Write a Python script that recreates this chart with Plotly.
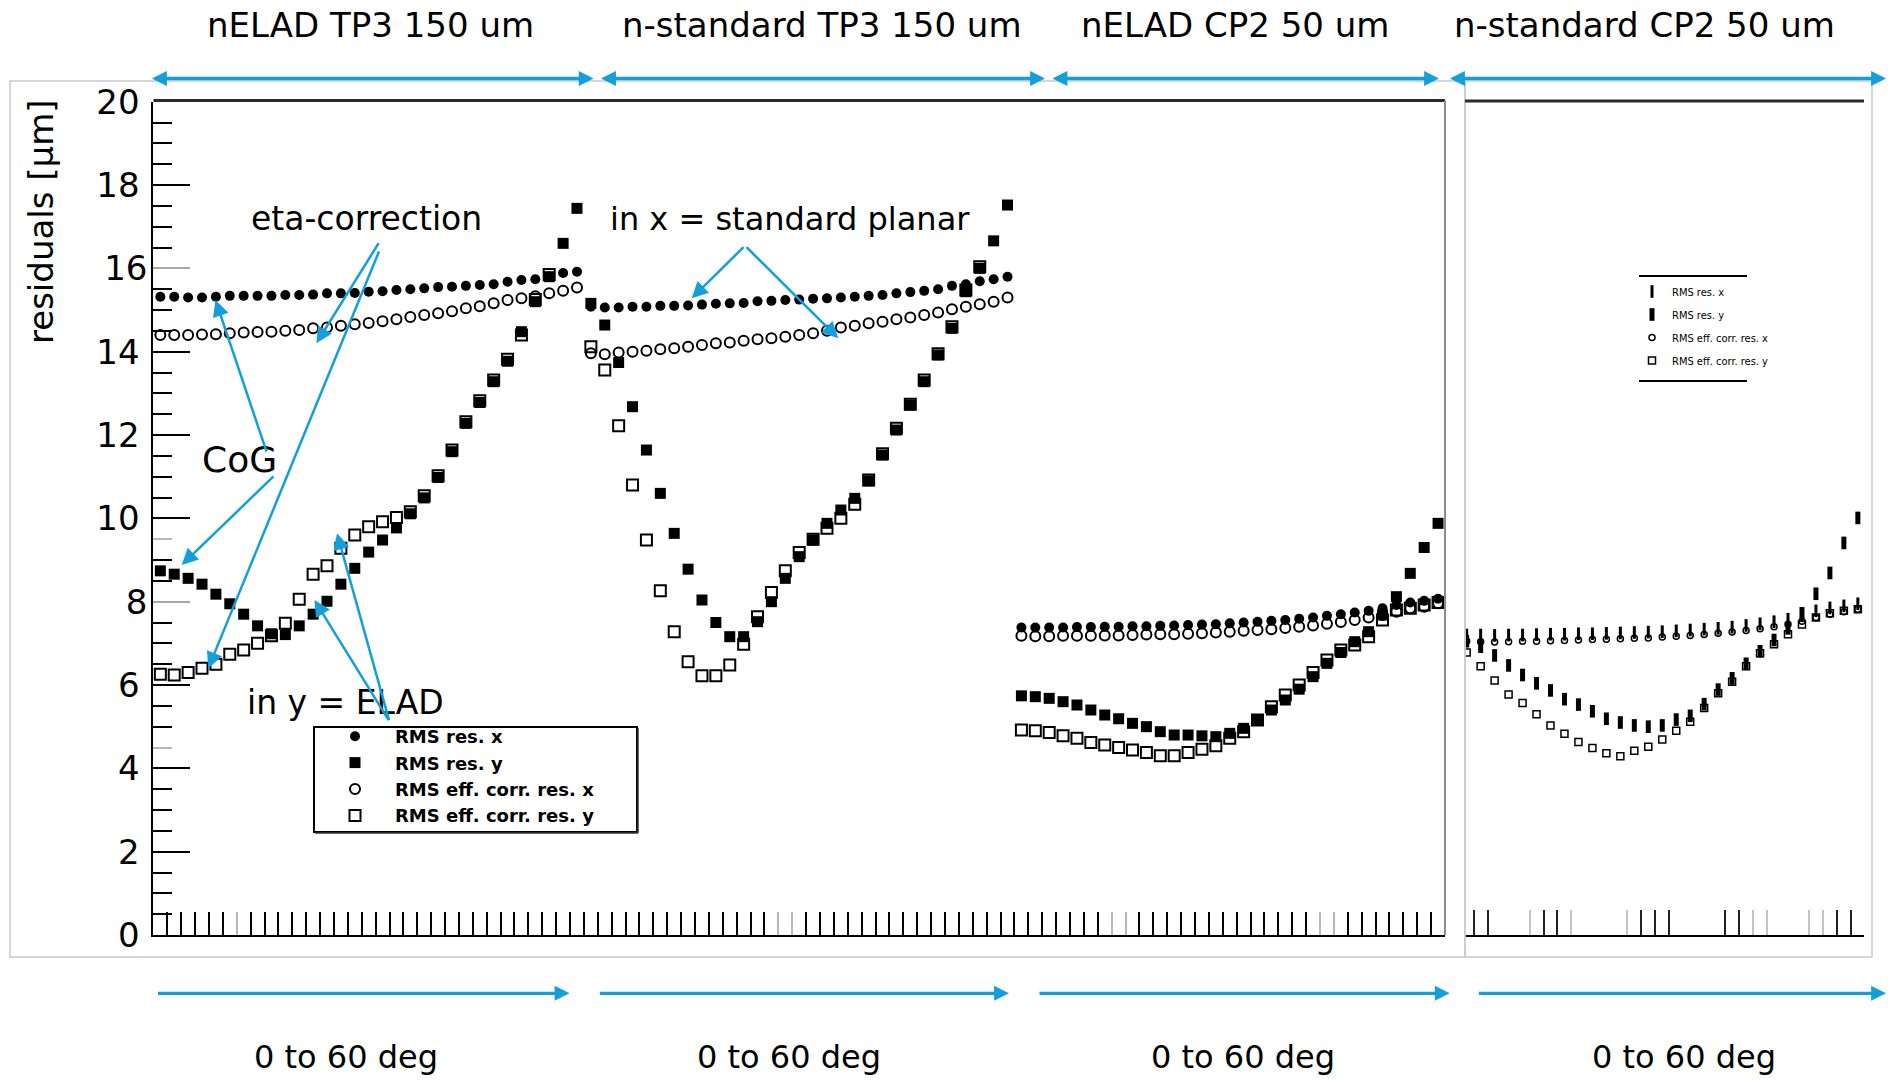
import numpy as np
import plotly.graph_objects as go

# ---------------------------------------------------------------------------
# Data: RMS residuals [um] vs. incidence angle (31 angles from 0 to 60 deg)
# ---------------------------------------------------------------------------
section_titles = ["nELAD TP3 150 um", "n-standard TP3 150 um",
                  "nELAD CP2 50 um", "n-standard CP2 50 um"]
angle_label = "0 to 60 deg"
y_tick_values = [0, 2, 4, 6, 8, 10, 12, 14, 16, 18, 20]
series_names = ["RMS res. x", "RMS res. y",
                "RMS eff. corr. res. x", "RMS eff. corr. res. y"]

# nELAD TP3 150 um
res_x_elad_tp3 = [15.32, 15.32, 15.30, 15.30, 15.32, 15.34, 15.34, 15.34, 15.34, 15.36, 15.36,
                  15.37, 15.40, 15.40, 15.41, 15.44, 15.45, 15.48, 15.50, 15.52, 15.55, 15.56,
                  15.58, 15.60, 15.62, 15.68, 15.72, 15.74, 15.80, 15.89, 15.92]
res_y_elad_tp3 = [8.74, 8.66, 8.56, 8.42, 8.18, 7.95, 7.70, 7.42, 7.23, 7.21, 7.42, 7.70,
                  8.01, 8.42, 8.80, 9.19, 9.48, 9.77, 10.11, 10.49, 10.98, 11.60, 12.28,
                  12.78, 13.28, 13.77, 14.48, 15.20, 15.80, 16.60, 17.44]
eff_x_elad_tp3 = [14.40, 14.40, 14.40, 14.41, 14.42, 14.44, 14.46, 14.47, 14.48, 14.50, 14.52,
                  14.56, 14.58, 14.62, 14.66, 14.69, 14.73, 14.78, 14.83, 14.88, 14.92, 14.97,
                  15.04, 15.09, 15.16, 15.24, 15.28, 15.33, 15.40, 15.46, 15.54]
eff_y_elad_tp3 = [6.26, 6.24, 6.30, 6.40, 6.50, 6.74, 6.84, 7.00, 7.18, 7.48, 8.06, 8.66,
                  8.86, 9.28, 9.60, 9.80, 9.92, 10.02, 10.16, 10.54, 11.02, 11.64, 12.32,
                  12.82, 13.32, 13.82, 14.40, 15.25, 15.85, None, None]

# n-standard TP3 150 um
res_x_std_tp3 = [15.08, 15.06, 15.06, 15.08, 15.08, 15.10, 15.10, 15.11, 15.13, 15.15, 15.16,
                 15.17, 15.21, 15.22, 15.24, 15.25, 15.27, 15.28, 15.30, 15.32, 15.34, 15.36,
                 15.40, 15.43, 15.46, 15.50, 15.58, 15.62, 15.69, 15.74, 15.80]
res_y_std_tp3 = [15.16, 14.64, 13.74, 12.68, 11.64, 10.60, 9.64, 8.78, 8.04, 7.50, 7.16,
                 7.16, 7.52, 8.00, 8.56, 9.08, 9.48, 9.88, 10.20, 10.48, 10.90, 11.52,
                 12.12, 12.72, 13.28, 13.92, 14.56, 15.44, 16.00, 16.66, 17.52]
eff_x_std_tp3 = [13.96, 13.94, 13.98, 14.00, 14.02, 14.06, 14.08, 14.12, 14.16, 14.20, 14.22,
                 14.26, 14.30, 14.32, 14.36, 14.40, 14.44, 14.50, 14.58, 14.62, 14.68, 14.72,
                 14.78, 14.82, 14.88, 14.94, 15.02, 15.08, 15.14, 15.20, 15.30]
eff_y_std_tp3 = [14.12, 13.56, 12.22, 10.80, 9.48, 8.26, 7.28, 6.56, 6.22, 6.22, 6.48,
                 6.98, 7.64, 8.22, 8.74, 9.18, 9.50, 9.76, 10.00, 10.34, 10.92, 11.55,
                 12.16, 12.74, 13.32, 13.95, 14.60, 15.48, 16.04, None, None]

# nELAD CP2 50 um
res_x_elad_cp2 = [7.38, 7.38, 7.38, 7.38, 7.39, 7.39, 7.40, 7.40, 7.41, 7.41, 7.42, 7.43,
                  7.44, 7.45, 7.46, 7.48, 7.50, 7.52, 7.54, 7.56, 7.59, 7.62, 7.66, 7.70,
                  7.74, 7.78, 7.84, 7.92, 7.98, 8.02, 8.07]
res_y_elad_cp2 = [5.74, 5.72, 5.68, 5.60, 5.52, 5.40, 5.28, 5.19, 5.08, 5.00, 4.88, 4.80,
                  4.80, 4.78, 4.76, 4.84, 4.96, 5.16, 5.40, 5.64, 5.90, 6.20, 6.52, 6.78,
                  7.04, 7.28, 7.68, 8.12, 8.68, 9.30, 9.88]
eff_x_elad_cp2 = [7.18, 7.17, 7.17, 7.18, 7.18, 7.18, 7.19, 7.19, 7.20, 7.21, 7.22, 7.22,
                  7.23, 7.24, 7.26, 7.28, 7.30, 7.32, 7.34, 7.37, 7.40, 7.43, 7.47, 7.51,
                  7.56, 7.62, 7.68, 7.76, 7.84, 7.88, 7.96]
eff_y_elad_cp2 = [4.92, 4.90, 4.86, 4.78, 4.72, 4.62, 4.56, 4.50, 4.44, 4.38, 4.30, 4.30,
                  4.38, 4.46, 4.54, 4.72, 4.88, 5.16, 5.48, 5.76, 6.00, 6.30, 6.60, 6.84,
                  6.96, 7.16, 7.56, 7.80, 7.84, 7.92, 7.98]

# n-standard CP2 50 um (separate canvas, only 29 angles visible)
res_x_std_cp2 = [7.20, 7.20, 7.19, 7.20, 7.20, 7.21, 7.22, 7.22, 7.23, 7.23, 7.24, 7.25,
                 7.26, 7.27, 7.28, 7.30, 7.32, 7.34, 7.36, 7.39, 7.43, 7.47, 7.52, 7.58,
                 7.66, 7.78, 7.85, 7.90, 7.95]
res_y_std_cp2 = [7.05, 6.92, 6.71, 6.47, 6.24, 6.04, 5.87, 5.66, 5.53, 5.37, 5.19, 5.10,
                 5.03, 5.00, 5.03, 5.17, 5.26, 5.54, 5.89, 6.16, 6.51, 6.81, 7.08, 7.36,
                 7.72, 8.19, 8.69, 9.41, 10.01]
eff_x_std_cp2 = [7.05, 7.04, 7.03, 7.04, 7.05, 7.05, 7.06, 7.07, 7.08, 7.09, 7.10, 7.11,
                 7.12, 7.13, 7.15, 7.17, 7.19, 7.21, 7.24, 7.27, 7.31, 7.35, 7.40, 7.46,
                 7.53, 7.62, 7.70, 7.76, 7.82]
eff_y_std_cp2 = [6.78, 6.45, 6.11, 5.77, 5.57, 5.30, 5.03, 4.83, 4.63, 4.49, 4.36, 4.29,
                 4.42, 4.52, 4.69, 4.90, 5.12, 5.45, 5.80, 6.08, 6.45, 6.76, 6.98, 7.22,
                 7.45, 7.62, 7.72, 7.78, 7.82]

# ---------------------------------------------------------------------------
# Geometry helpers (canvas is 1888 x 1080 px, margins are zero)
# ---------------------------------------------------------------------------
W, H = 1888, 1080
BLUE = "#139fdb"
FONT = "DejaVu Sans"


def fx(px):
    return px / W


def fy(py):
    return 1 - py / H


X_LEFT, X_RIGHT = 153.4, 1445.0          # main frame
Y_TOP, Y_BOTTOM = 101.7, 935.0
R_LEFT, R_RIGHT = 1465.0, 1864.0         # second canvas frame
N_BINS = 93                               # 3 x 31 angle bins on the main canvas
R_RANGE = [-0.12, 28.44]

# bin centres of the three sections on the main canvas
main_sections = [
    (res_x_elad_tp3, res_y_elad_tp3, eff_x_elad_tp3, eff_y_elad_tp3),
    (res_x_std_tp3, res_y_std_tp3, eff_x_std_tp3, eff_y_std_tp3),
    (res_x_elad_cp2, res_y_elad_cp2, eff_x_elad_cp2, eff_y_elad_cp2),
]
bin_x = np.concatenate([np.arange(len(s[0])) + 31 * k + 0.5 for k, s in enumerate(main_sections)])
main_series = [sum((list(s[j]) for s in main_sections), []) for j in range(4)]

right_series = [res_x_std_cp2, res_y_std_cp2, eff_x_std_cp2, eff_y_std_cp2]
right_x = np.arange(len(res_x_std_cp2))

fig = go.Figure()

# --- main canvas: open markers first, filled markers drawn on top ---------
main_styles = {
    0: dict(symbol="circle", size=10, color="black"),
    1: dict(symbol="square", size=11, color="black"),
    2: dict(symbol="circle-open", size=10, color="black", line=dict(width=2)),
    3: dict(symbol="square-open", size=11, color="black", line=dict(width=2)),
}
for j in (2, 3, 0, 1):
    fig.add_trace(go.Scatter(
        x=bin_x, y=main_series[j], mode="markers", name=series_names[j],
        marker=main_styles[j], legend="legend", legendrank=j + 1,
        xaxis="x", yaxis="y", cliponaxis=False, hoverinfo="skip"))

# --- second canvas (squeezed markers) ---------------------------------------
right_styles = {
    0: dict(symbol="line-ns", size=9, color="black", line=dict(width=3, color="black")),
    1: dict(symbol="line-ns", size=9, color="black", line=dict(width=5, color="black")),
    2: dict(symbol="circle-open", size=6, color="black", line=dict(width=1.5)),
    3: dict(symbol="square-open", size=7, color="black", line=dict(width=1.5)),
}
for j in range(4):
    fig.add_trace(go.Scatter(
        x=right_x, y=right_series[j], mode="markers", name=series_names[j],
        marker=right_styles[j], legend="legend2", legendgroup="g%d" % j,
        xaxis="x2", yaxis="y2", cliponaxis=True, hoverinfo="skip"))

# empty traces that host the lighter tick overlays
fig.add_trace(go.Scatter(x=[], y=[], xaxis="x3", yaxis="y3", showlegend=False))
fig.add_trace(go.Scatter(x=[], y=[], xaxis="x4", yaxis="y2", showlegend=False))

# --- axes ---------------------------------------------------------------------
gray_bins = [6, 45, 46, 69, 70, 84, 85]
black_bins = [b for b in range(1, N_BINS) if b not in gray_bins]
gray_y_major = [8, 16]
gray_y_minor = [4.5, 9.5]
black_y_major = [v for v in y_tick_values if v not in gray_y_major]
black_y_minor = [v / 2 for v in range(1, 40) if v % 4 != 0 and v / 2 not in gray_y_minor]

r_black = [0.5, 1.5, 5.5, 6.5, 12.5, 13.5, 14.5, 18.5, 19.5, 26.5, 27.5]
r_gray = [4.5, 7.5, 11.5, 20.5, 21.5, 24.5, 25.5]

y_domain = [fy(Y_BOTTOM), fy(Y_TOP)]
tickfont = dict(family=FONT, size=34, color="black")

fig.update_layout(
    xaxis=dict(domain=[fx(X_LEFT), fx(X_RIGHT)], range=[0, N_BINS], anchor="y",
               tickmode="array", tickvals=black_bins, ticks="inside", ticklen=23,
               tickwidth=2, tickcolor="black", showticklabels=False,
               showline=True, linecolor="black", linewidth=2,
               showgrid=False, zeroline=False, fixedrange=True),
    yaxis=dict(domain=y_domain, range=[0, 20], anchor="x",
               tickmode="array", tickvals=black_y_major,
               ticktext=[str(v) for v in black_y_major],
               ticks="inside", ticklen=37, tickwidth=2, tickcolor="black",
               minor=dict(tickmode="array", tickvals=black_y_minor, ticks="inside",
                          ticklen=19, tickwidth=2, tickcolor="black"),
               tickfont=tickfont, ticklabelstandoff=5,
               showline=True, linecolor="black", linewidth=2,
               showgrid=False, zeroline=False, fixedrange=True),
    xaxis3=dict(overlaying="x", range=[0, N_BINS], anchor="y3",
                tickmode="array", tickvals=gray_bins, ticks="inside", ticklen=23,
                tickwidth=2, tickcolor="#b8b8b8", showticklabels=False,
                showline=False, showgrid=False, zeroline=False, fixedrange=True),
    yaxis3=dict(overlaying="y", range=[0, 20], anchor="x3", side="left",
                tickmode="array", tickvals=gray_y_major,
                ticktext=[str(v) for v in gray_y_major],
                ticks="inside", ticklen=37, tickwidth=2, tickcolor="#a8a8a8",
                minor=dict(tickmode="array", tickvals=gray_y_minor, ticks="inside",
                           ticklen=19, tickwidth=2, tickcolor="#b8b8b8"),
                tickfont=tickfont, ticklabelstandoff=5,
                showline=False, showgrid=False, zeroline=False, fixedrange=True),
    xaxis2=dict(domain=[fx(R_LEFT), fx(R_RIGHT)], range=R_RANGE, anchor="y2",
                tickmode="array", tickvals=r_black, ticks="inside", ticklen=25,
                tickwidth=2, tickcolor="#222", showticklabels=False,
                showline=True, linecolor="black", linewidth=2,
                showgrid=False, zeroline=False, fixedrange=True),
    xaxis4=dict(overlaying="x2", range=R_RANGE, anchor="y2",
                tickmode="array", tickvals=r_gray, ticks="inside", ticklen=25,
                tickwidth=2, tickcolor="#c4c4c4", showticklabels=False,
                showline=False, showgrid=False, zeroline=False, fixedrange=True),
    yaxis2=dict(domain=y_domain, range=[0, 20], anchor="x2", visible=False,
                fixedrange=True),
)

# --- legends ------------------------------------------------------------------
fig.update_layout(
    legend=dict(x=fx(315), y=fy(718), xanchor="left", yanchor="top",
                bgcolor="rgba(0,0,0,0)", borderwidth=0, itemwidth=70,
                font=dict(family=FONT, size=18, color="black", weight="bold"),
                itemclick=False, itemdoubleclick=False),
    legend2=dict(x=fx(1632), y=fy(277), xanchor="left", yanchor="top",
                 bgcolor="rgba(0,0,0,0)", borderwidth=0, itemwidth=30,
                 traceorder="grouped", tracegroupgap=4,
                 font=dict(family="DejaVu Sans Condensed, " + FONT, size=11, color="black"),
                 itemclick=False, itemdoubleclick=False),
)

# --- frames and legend boxes ----------------------------------------------------
shapes = []


def line(x0, y0, x1, y1, color, width):
    shapes.append(dict(type="line", xref="paper", yref="paper",
                       x0=fx(x0), y0=fy(y0), x1=fx(x1), y1=fy(y1),
                       line=dict(color=color, width=width), layer="above"))


def rect(x0, y0, x1, y1, color, width):
    shapes.append(dict(type="rect", xref="paper", yref="paper",
                       x0=fx(x0), y0=fy(y0), x1=fx(x1), y1=fy(y1),
                       line=dict(color=color, width=width),
                       fillcolor="rgba(0,0,0,0)", layer="above"))


rect(10, 81, R_LEFT, 957, "#cacaca", 1.5)          # outer frame, main canvas
rect(R_LEFT, 81, 1872, 957, "#cacaca", 1.5)        # outer frame, second canvas
line(X_LEFT, 100.5, X_RIGHT, 100.5, "#2b2b2b", 3)  # top edge of main frame
line(X_RIGHT, 100.5, X_RIGHT, Y_BOTTOM, "#8c8c8c", 2)
line(R_LEFT, 101, R_RIGHT, 101, "#2b2b2b", 3)      # top edge of second frame
rect(314, 727, 637, 832, "black", 2)               # main legend box
line(315, 833, 638, 833, "#333", 1.5)
line(638, 728, 638, 833, "#333", 1.5)
line(1639, 276, 1747, 276, "black", 2)             # second legend rules
line(1639, 381, 1747, 381, "black", 2)

# --- annotations -------------------------------------------------------------
annotations = []


def label(text, x, y, size, angle=0):
    annotations.append(dict(text=text, x=fx(x), y=fy(y), xref="paper", yref="paper",
                            xanchor="center", yanchor="middle", showarrow=False,
                            textangle=angle, font=dict(family=FONT, size=size, color="black")))


def arrow(tail, head, width=2.5, size=1.3, both=False):
    annotations.append(dict(text="", x=fx(head[0]), y=fy(head[1]), xref="paper", yref="paper",
                            ax=tail[0] - head[0], ay=tail[1] - head[1],
                            axref="pixel", ayref="pixel", showarrow=True,
                            arrowhead=2, startarrowhead=2, arrowsize=size, startarrowsize=size,
                            arrowwidth=width, arrowcolor=BLUE, standoff=0, startstandoff=0,
                            arrowside="end+start" if both else "end"))


title_centres = [370, 822, 1235, 1644]
angle_centres = [346, 789, 1243, 1684]
for t, cx in zip(section_titles, title_centres):
    label(t, cx, 25, 34)
for cx in angle_centres:
    label(angle_label, cx, 1057, 32)

label("residuals [µm]", 41, 222, 34, angle=-90)
label("eta-correction", 366, 219, 33)
label("in x = standard planar", 790, 219, 32)
label("CoG", 239, 459, 36)
label("in y = ELAD", 345, 702, 33)

# double-headed range arrows above, single arrows below
top_spans = [(150.5, 593.6), (599.6, 1045), (1051, 1439), (1448.5, 1886)]
bottom_spans = [(156.5, 569.5), (598.4, 1009), (1038, 1449.7), (1477.4, 1886)]
for x0, x1 in top_spans:
    arrow((x0, 78.5), (x1, 78.5), width=3.3, size=0.9, both=True)
for x0, x1 in bottom_spans:
    arrow((x0, 993.3), (x1, 993.3), width=3.3, size=0.9)

# pointers from the explanatory labels to the series
arrow((379.6, 241.7), (316.3, 343.3))
arrow((379.6, 250.0), (208.3, 668.3))
arrow((267.0, 453.0), (215.5, 300.0))
arrow((275.0, 475.0), (181.7, 565.0))
arrow((745.0, 245.7), (691.7, 298.3))
arrow((745.0, 245.7), (838.3, 338.3))
arrow((389.5, 721.7), (314.4, 600.0))
arrow((389.5, 721.7), (337.0, 533.3))

fig.update_layout(
    width=W, height=H, autosize=False,
    margin=dict(l=0, r=0, t=0, b=0, pad=0, autoexpand=False),
    paper_bgcolor="white", plot_bgcolor="white",
    shapes=shapes, annotations=annotations,
    showlegend=True, hovermode=False,
)

fig.write_html("out.html", config={"displayModeBar": False, "staticPlot": True})
